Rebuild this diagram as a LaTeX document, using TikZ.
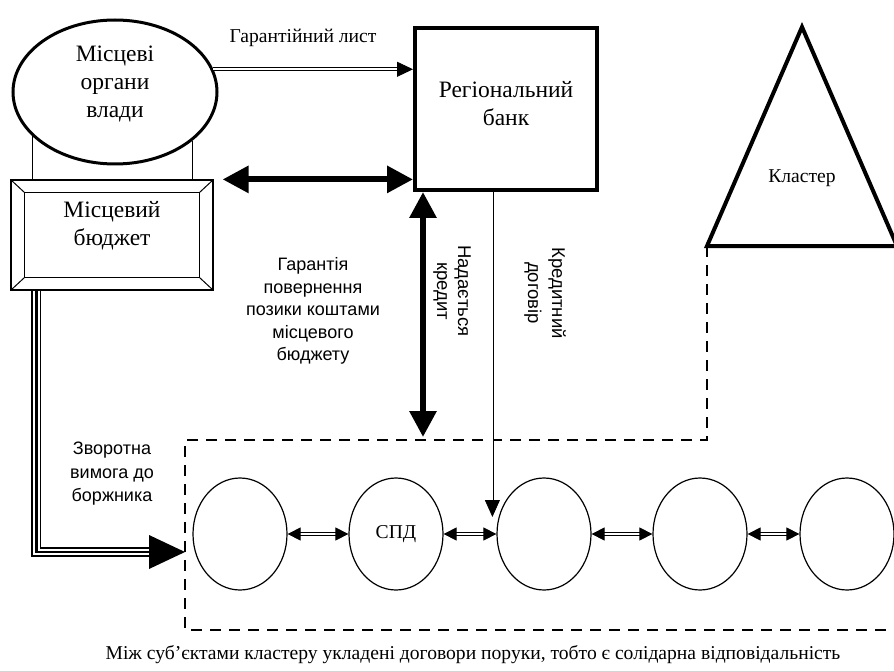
\documentclass[tikz,border=0pt]{standalone}
\usepackage{fontspec}
\setmainfont{Liberation Serif}
\newfontfamily\sansf{Liberation Sans}
\usetikzlibrary{shapes.geometric,arrows.meta,calc}
\begin{document}
\begin{tikzpicture}[x=1pt,y=-1pt,
  big/.style={align=center, inner sep=0pt, font=\fontsize{23.5}{28}\selectfont},
  lbl/.style={align=center, inner sep=0pt, font=\fontsize{19.6}{23.5}\selectfont},
  slbl/.style={align=center, inner sep=0pt, font=\sansf\fontsize{18}{22.5}\selectfont},
  dashline/.style={line width=2.4pt, dash pattern=on 11pt off 8pt},
  dblarrow/.style={double, double distance=2pt, line width=0.8pt},
  thickarrow/.style={line width=6pt, {Triangle[length=26pt,width=26pt]}-{Triangle[length=26pt,width=26pt]}},
  smallarrow/.style={double, double distance=2pt, line width=0.8pt, {Triangle[length=13pt,width=13pt]}-{Triangle[length=13pt,width=13pt]}},
  circ/.style={ellipse, draw, line width=1.2pt, minimum width=94pt, minimum height=112pt, inner sep=0pt}]
\useasboundingbox (0,0) rectangle (894,671);

% Local authorities
\node[ellipse, draw, line width=3pt, minimum width=204pt, minimum height=144pt] (org) at (115,92) {};
\node[big] (orgtxt) at (115,84) {Місцеві\\органи\\влади};

% Local budget (bevelled frame)
\node[draw, line width=1.2pt, minimum width=202pt, minimum height=110pt] (bud) at (112,235) {};
\draw[line width=1.2pt] ($(bud.north west)+(14,13)$) rectangle ($(bud.south east)+(-14,-13)$);
\draw[line width=1pt] (bud.north west) -- +(14,13) (bud.north east) -- +(-14,13)
  (bud.south west) -- +(14,-13) (bud.south east) -- +(-14,-13);
\node[big] (budtxt) at (112,226) {Місцевий\\бюджет};

% connecting lines ellipse - budget
\draw[line width=1pt] (org.208) -- (org.208 |- bud.north);
\draw[line width=1pt] (org.328) -- (org.328 |- bud.north);

% Regional bank
\node[draw, line width=4pt, minimum width=182pt, minimum height=162pt] (bank) at (506,109) {};
\node[big] (banktxt) at (506,104) {Регіональний\\банк};

% Cluster triangle
\coordinate (tA) at (802,27);
\coordinate (tL) at (707,246);
\coordinate (tR) at (897,246);
\draw[line width=4pt, line join=miter] (tA) -- (tL) -- (tR) -- cycle;
\node[lbl] (kl) at (802,178) {Кластер};

% dashed cluster boundary
\coordinate (dtr) at (707,440);
\coordinate (dtl) at (185,440);
\coordinate (dbl) at (185,630);
\coordinate (dbr) at (900,630);
\draw[dashline] (tL) -- (dtr) -- (dtl) -- (dbl) -- (dbr);

% entities
\node[circ] (c1) at (240,534) {};
\node[circ, font=\fontsize{19.6}{23}\selectfont] (c2) at (396,534) {СПД};
\node[circ] (c3) at (544,534) {};
\node[circ] (c4) at (700,534) {};
\node[circ] (c5) at (847,534) {};
\draw[smallarrow] (c1.east) -- (c2.west);
\draw[smallarrow] (c2.east) -- (c3.west);
\draw[smallarrow] (c3.east) -- (c4.west);
\draw[smallarrow] (c4.east) -- (c5.west);

% guarantee letter
\draw[dblarrow, -{Triangle[length=16pt,width=15pt]}] (org.13) -- (org.13 -| bank.west);
\node[lbl] (gl) at (303,38) {Гарантійний лист};

% thick horizontal arrow budget <-> bank
\coordinate (ha) at ($(bud.north east)+(9,0)$);
\draw[thickarrow] (ha) -- (ha -| bank.west);

% thick vertical arrow bank <-> cluster
\coordinate (vb) at (423,437);
\draw[thickarrow] (vb |- bank.south) -- (vb);
\node[slbl, font=\sansf\fontsize{18.5}{21}\selectfont, rotate=-90] (nk) at (452,291) {Надається\\кредит};

% credit agreement
\coordinate (ct) at ($(c3.west)+(-4,-17)$);
\draw[dblarrow, -{Triangle[length=17pt,width=15pt]}] (ct |- bank.south) -- (ct);
\node[slbl, font=\sansf\fontsize{18.5}{24}\selectfont, rotate=-90] (kd) at (545,293) {Кредитний\\договір};

% guarantee text
\node[slbl] (gar) at (313,311) {Гарантія\\повернення\\позики коштами\\місцевого\\бюджету};

% recourse claim (triple line)
\coordinate (ts) at ($(bud.south west)+(26,0)$);
\coordinate (tt) at (185,552);
\coordinate (tb) at (150,552);
\draw[line width=10pt] (ts) |- (tb);
\draw[line width=6.5pt, white] (ts) |- (tb);
\draw[line width=2.5pt] (ts) |- (tb);
\fill ($(tt)+(-36,-17)$) -- (tt) -- ($(tt)+(-36,17)$) -- cycle;
\node[slbl, font=\sansf\fontsize{18}{23.5}\selectfont] (zv) at (112,474) {Зворотна\\вимога до\\боржника};

% caption
\node[lbl] (cap) at (473,655) {Між суб’єктами кластеру укладені договори поруки, тобто є солідарна відповідальність};
\end{tikzpicture}
\end{document}
